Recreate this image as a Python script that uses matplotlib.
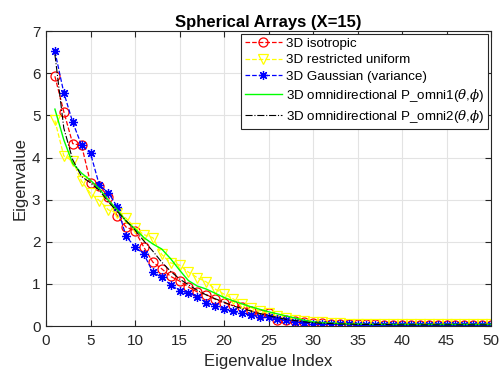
import numpy as np
import matplotlib
matplotlib.use('Agg')
import matplotlib.pyplot as plt

plt.rcParams['font.family'] = ['Liberation Sans', 'DejaVu Sans']
plt.rcParams['mathtext.fontset'] = 'dejavuserif'

idx = np.arange(1, 51)

# eigenvalues
iso = [5.93, 5.09, 4.33, 4.29, 3.40, 3.33, 3.07, 2.62, 2.35, 2.26,
       1.87, 1.52, 1.36, 1.18, 1.07, 0.93, 0.81, 0.75, 0.64, 0.55,
       0.49, 0.46, 0.37, 0.28, 0.30, 0.14, 0.14, 0.11, 0.10, 0.08,
       0.07, 0.06, 0.05, 0.05, 0.04, 0.04, 0.04, 0.03, 0.03, 0.03,
       0.03, 0.03, 0.03, 0.03, 0.03, 0.03, 0.03, 0.03, 0.03, 0.03]
unif = [4.88, 4.04, 3.92, 3.44, 3.15, 2.98, 2.76, 2.68, 2.56, 2.33,
        2.17, 2.10, 1.70, 1.50, 1.45, 1.28, 1.15, 1.05, 0.88, 0.76,
        0.65, 0.52, 0.44, 0.36, 0.30, 0.24, 0.19, 0.15, 0.12, 0.10,
        0.09, 0.08, 0.07, 0.06, 0.05, 0.05, 0.05, 0.04, 0.04, 0.04,
        0.04, 0.04, 0.04, 0.04, 0.04, 0.04, 0.04, 0.04, 0.04, 0.04]
gauss = [6.52, 5.54, 4.84, 4.29, 4.10, 3.34, 3.17, 2.83, 2.13, 1.88,
         1.71, 1.28, 1.16, 0.98, 0.84, 0.79, 0.69, 0.56, 0.47, 0.41,
         0.35, 0.30, 0.26, 0.22, 0.21, 0.18, 0.14, 0.10, 0.08, 0.06,
         0.05, 0.05, 0.04, 0.04, 0.03, 0.03, 0.03, 0.03, 0.03, 0.03,
         0.03, 0.03, 0.03, 0.03, 0.03, 0.03, 0.03, 0.03, 0.03, 0.03]
omni1 = [5.15, 4.42, 3.86, 3.63, 3.46, 3.26, 2.99, 2.76, 2.49, 2.31,
         2.10, 1.95, 1.83, 1.60, 1.33, 1.08, 0.95, 0.88, 0.78, 0.68,
         0.60, 0.53, 0.46, 0.40, 0.34, 0.29, 0.24, 0.19, 0.14, 0.10,
         0.08, 0.07, 0.06, 0.05, 0.05, 0.04, 0.04, 0.04, 0.04, 0.04,
         0.04, 0.04, 0.04, 0.04, 0.04, 0.04, 0.04, 0.04, 0.04, 0.04]
omni2 = [6.45, 4.70, 3.95, 3.55, 3.40, 3.22, 2.95, 2.72, 2.50, 2.28,
         2.02, 1.78, 1.52, 1.30, 1.12, 0.98, 0.85, 0.74, 0.65, 0.57,
         0.48, 0.42, 0.36, 0.30, 0.25, 0.20, 0.16, 0.13, 0.10, 0.08,
         0.07, 0.06, 0.05, 0.05, 0.04, 0.04, 0.04, 0.04, 0.03, 0.03,
         0.03, 0.03, 0.03, 0.03, 0.03, 0.03, 0.03, 0.03, 0.03, 0.03]

fig = plt.figure(figsize=(5, 3.71), dpi=100)
ax = fig.add_axes([0.092, 0.121, 0.89, 0.795])

ax.plot(idx, iso, '--', color='red', marker='o', mfc='none', ms=6.5, lw=0.9,
        mew=0.9, label='3D isotropic')
ax.plot(idx, unif, '--', color='yellow', marker='v', mfc='none', ms=7, lw=0.9,
        mew=0.9, label='3D restricted uniform')
ax.plot(idx, gauss, '--', color='blue', marker=(8, 2, 0), ms=6.5, lw=0.9,
        mew=0.9, label='3D Gaussian (variance)')
ax.plot(idx, omni1, '-', color='#00ff00', lw=1.0,
        label=r'3D omnidirectional P_omni1($\theta$,$\phi$)')
ax.plot(idx, omni2, '-.', color='black', lw=0.8,
        label=r'3D omnidirectional P_omni2($\theta$,$\phi$)')

ax.set_xlim(0, 50)
ax.set_ylim(0, 7)
ax.set_xticks(np.arange(0, 51, 5))
ax.set_yticks(np.arange(0, 8, 1))
ax.grid(True, color='#e3e3e3', lw=0.8)
ax.set_axisbelow(True)
ax.tick_params(direction='in', top=True, right=True, labelsize=11,
               colors='#262626', length=4, width=0.8, pad=4)
ax.tick_params(axis='x', pad=6)
for s in ax.spines.values():
    s.set_color('#262626')
    s.set_linewidth(0.8)

ax.set_xlabel('Eigenvalue Index', fontsize=12, color='#262626', labelpad=4)
ax.set_ylabel('Eigenvalue', fontsize=12, color='#262626', labelpad=3)
ax.set_title('Spherical Arrays (X=15)', fontsize=12, fontweight='bold', pad=3)

leg = ax.legend(loc='upper right', fontsize=9.6, handlelength=2.8,
                fancybox=False, framealpha=1, edgecolor='#262626',
                borderpad=0.3, labelspacing=0.3, handletextpad=0.3,
                borderaxespad=0.2)
leg.get_frame().set_linewidth(0.8)

fig.savefig('out.png', dpi=100)
